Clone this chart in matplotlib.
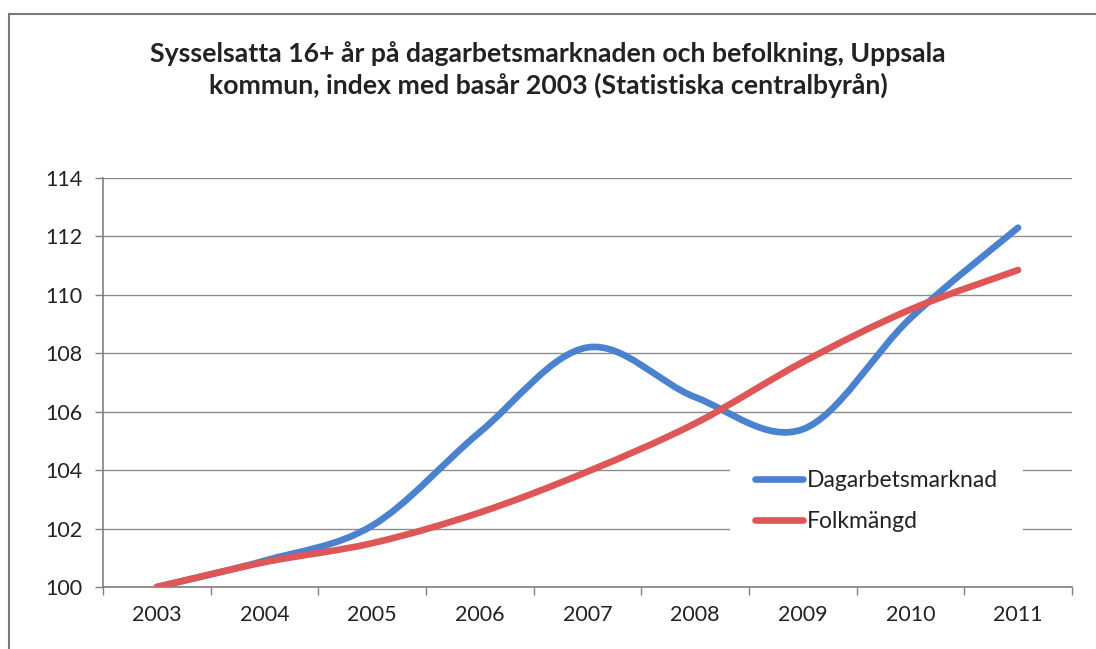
import matplotlib.pyplot as plt
from matplotlib.path import Path
from matplotlib.patches import PathPatch
from matplotlib.lines import Line2D
import numpy as np

plt.rcParams['font.family'] = ['Lato', 'DejaVu Sans']

years = ['2003', '2004', '2005', '2006', '2007', '2008', '2009', '2010', '2011']
dagarbetsmarknad = [100.0, 100.9, 102.1, 105.3, 108.2, 106.5, 105.4, 109.2, 112.3]
folkmangd = [100.0, 100.85, 101.5, 102.55, 103.95, 105.6, 107.7, 109.5, 110.85]
series_names = ['Dagarbetsmarknad', 'Folkmängd']
title = ('Sysselsatta 16+ år på dagarbetsmarknaden och befolkning, Uppsala\n'
         'kommun, index med basår 2003 (Statistiska centralbyrån)')

blue = '#4a82cf'
red = '#de5656'


def smooth_path(x, y):
    # Excel-like smoothed line: cubic bezier through every point
    pts = np.column_stack([x, y]).astype(float)
    n = len(pts)
    verts = [pts[0]]
    codes = [Path.MOVETO]
    for i in range(n - 1):
        p_prev = pts[i - 1] if i > 0 else pts[i]
        p_next2 = pts[i + 2] if i + 2 < n else pts[i + 1]
        c1 = pts[i] + (pts[i + 1] - p_prev) / 6
        c2 = pts[i + 1] - (p_next2 - pts[i]) / 6
        verts += [c1, c2, pts[i + 1]]
        codes += [Path.CURVE4] * 3
    return Path(verts, codes)


fig = plt.figure(figsize=(10.96, 6.49), dpi=100)
ax = fig.add_axes([0.094, 0.0955, 0.884, 0.6302])

x = np.arange(len(years))
for vals, col in [(dagarbetsmarknad, blue), (folkmangd, red)]:
    ax.add_patch(PathPatch(smooth_path(x, vals), facecolor='none', edgecolor=col,
                           lw=4.8, capstyle='round', joinstyle='round', zorder=3))

ax.set_xlim(-0.5, len(years) - 0.5)
ax.set_ylim(100, 114)
ax.set_yticks(np.arange(100, 115, 2))
ax.yaxis.grid(True, color='#8c8c8c', lw=1)
ax.set_axisbelow(True)

# ticks between categories, labels centred
ax.set_xticks(np.arange(-0.5, len(years), 1))
ax.set_xticklabels([])
ax.set_xticks(x, minor=True)
ax.set_xticklabels(years, minor=True)
ax.tick_params(axis='x', which='major', length=6, color='#808080', width=1)
ax.tick_params(axis='x', which='minor', length=0, pad=13, labelsize=15.5, labelcolor='#222222')
ax.tick_params(axis='y', length=6, color='#808080', width=1, pad=9, labelsize=15.5, labelcolor='#222222')

for s in ['top', 'right']:
    ax.spines[s].set_visible(False)
for s in ['left', 'bottom']:
    ax.spines[s].set_color('#808080')
    ax.spines[s].set_linewidth(1.2)

handles = [Line2D([], [], color=blue, lw=4.8, solid_capstyle='round'),
           Line2D([], [], color=red, lw=4.8, solid_capstyle='round')]
leg = ax.legend(handles, series_names, loc='center', bbox_to_anchor=(0.798, 0.21),
                frameon=True, facecolor='white', edgecolor='none', framealpha=1,
                fontsize=16.5, handlelength=2.1, handletextpad=0.15, borderpad=1.1,
                labelspacing=0.85)
for t in leg.get_texts():
    t.set_color('#222222')
leg.get_frame().set_boxstyle('square', pad=0)

fig.text(0.5, 0.893, title, ha='center', va='center', fontsize=19.2, fontweight='bold',
         color='#222222', linespacing=1.3)

# chart border (scan shows only top and left edges)
fig.add_artist(Line2D([9 / 1096, 1], [1 - 14 / 649, 1 - 14 / 649], color='#7a7a7a', lw=1.5))
fig.add_artist(Line2D([9 / 1096, 9 / 1096], [0, 1 - 14 / 649], color='#7a7a7a', lw=1.5))

fig.savefig('out.png', dpi=100)
